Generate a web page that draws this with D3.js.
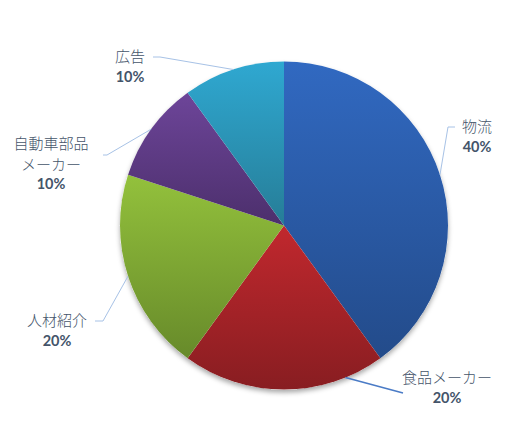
<!DOCTYPE html>
<html>
<head>
<meta charset="utf-8">
<script src="https://cdn.jsdelivr.net/npm/d3@7"></script>
<style>
  body { margin: 0; background: #fff; }
  .name { font-family: "Noto Sans CJK JP", sans-serif; font-weight: 300; font-size: 15px; fill: #44546a; }
  .pct { font-family: Lato, "Noto Sans", sans-serif; font-weight: 700; font-size: 14.5px; fill: #44546a; }
</style>
</head>
<body>
<svg width="510" height="440"></svg>
<script>
const svg = d3.select("svg");

// data
const categories = ["物流", "食品メーカー", "人材紹介", "自動車部品メーカー", "広告"];
const nameLines = [["物流"], ["食品メーカー"], ["人材紹介"], ["自動車部品", "メーカー"], ["広告"]];
const shares = [40, 20, 20, 10, 10];

// colours, top -> bottom of each slice
const topColors = ["#3169c1", "#c1282e", "#93c13c", "#6d4599", "#2fa8d1"];
const bottomColors = ["#234b8a", "#881d21", "#678a2a", "#4c2f6c", "#267d97"];

const cx = 284, cy = 225.5, radius = 164;

// label placement (Excel moved them around), and where the leader meets the pie
const labelLayout = [
    { x: 477, y: 127, angle: null, elbow: [[448, 127], [455, 127]] },
    { x: 447, y: 378, angle: 158, elbow: [[403, 393]], dark: true },
    { x: 57, y: 321, angle: null, elbow: [[103, 321], [95, 321]] },
    { x: 51, y: 144, angle: null, elbow: [[107, 155], [103, 155]] },
    { x: 130, y: 57, angle: null, elbow: [[160, 57], [153, 57]] }
];

const data = categories.map((c, i) => ({ name: c, lines: nameLines[i], value: shares[i], i: i }));

const pie = d3.pie().value(d => d.value).sort(null);
const arc = d3.arc().innerRadius(0).outerRadius(radius);
const arcs = pie(data);

const defs = svg.append("defs");

const shadow = defs.append("filter")
    .attr("id", "shadow")
    .attr("x", "-20%").attr("y", "-20%")
    .attr("width", "140%").attr("height", "140%");
shadow.append("feDropShadow")
    .attr("dx", 0).attr("dy", 3)
    .attr("stdDeviation", 2.5)
    .attr("flood-color", "#000")
    .attr("flood-opacity", 0.35);

arcs.forEach(a => {
    const g = defs.append("linearGradient")
        .attr("id", "grad" + a.index)
        .attr("x1", 0).attr("y1", 0)
        .attr("x2", 0).attr("y2", 1);
    g.append("stop").attr("offset", "0%").attr("stop-color", topColors[a.index]);
    g.append("stop").attr("offset", "100%").attr("stop-color", bottomColors[a.index]);
});

const g = svg.append("g")
    .attr("transform", `translate(${cx}, ${cy})`);

// shadow disc behind the slices
g.append("circle")
    .attr("r", radius)
    .attr("fill", "#fff")
    .attr("filter", "url(#shadow)");

g.selectAll("path.slice").data(arcs)
    .enter().append("path")
        .attr("class", "slice")
        .attr("d", arc)
        .attr("fill", d => `url(#grad${d.index})`);

// leader lines
const line = d3.line();
arcs.forEach(a => {
    const lay = labelLayout[a.index];
    const ang = lay.angle === null ? (a.startAngle + a.endAngle) / 2 : lay.angle * Math.PI / 180;
    const start = [cx + Math.sin(ang) * radius, cy - Math.cos(ang) * radius];
    svg.append("path")
        .attr("d", line([start].concat(lay.elbow)))
        .attr("fill", "none")
        .attr("stroke", lay.dark ? "#4a7bc6" : "#a7c2e6")
        .attr("stroke-width", lay.dark ? 1.6 : 1);
});

// labels
arcs.forEach(a => {
    const lay = labelLayout[a.index];
    const t = svg.append("g").attr("transform", `translate(${lay.x}, ${lay.y})`);
    a.data.lines.forEach((l, k) => {
        t.append("text")
            .attr("class", "name")
            .attr("text-anchor", "middle")
            .attr("dy", "0.35em")
            .attr("y", k * 20.5)
            .text(l);
    });
    t.append("text")
        .attr("class", "pct")
        .attr("text-anchor", "middle")
        .attr("dy", "0.35em")
        .attr("y", a.data.lines.length * 20 - 0.5)
        .text(a.data.value + "%");
});
</script>
</body>
</html>
